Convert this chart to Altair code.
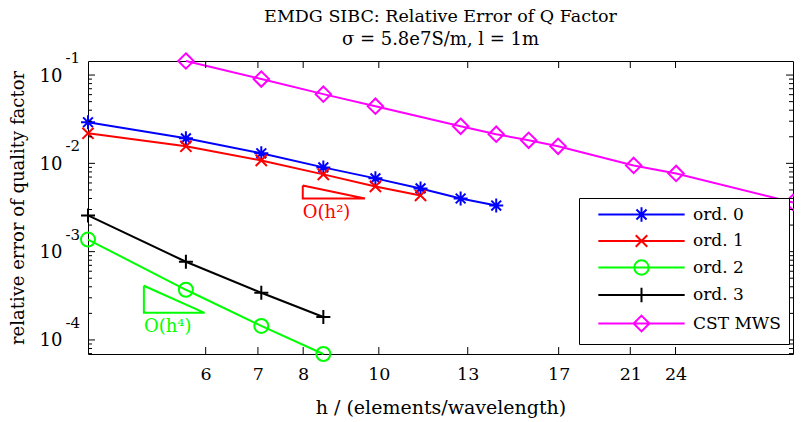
import altair as alt
import pandas as pd

TITLE = "EMDG SIBC: Relative Error of Q Factor"
SUBTITLE = "σ = 5.8e7S/m, l = 1m"
X_TITLE = "h / (elements/wavelength)"
Y_TITLE = "relative error of quality factor"

series_names = ["ord. 0", "ord. 1", "ord. 2", "ord. 3", "CST MWS"]
series_colors = ["#0000ff", "#ff0000", "#00ff00", "#000000", "#ff00ff"]

h_ord0 = [4.24, 5.66, 7.07, 8.49, 9.90, 11.31, 12.73, 14.14]
err_ord0 = [0.0292, 0.0192, 0.0130, 0.0090, 0.00676, 0.00520, 0.00400, 0.00333]
h_ord1 = [4.24, 5.66, 7.07, 8.49, 9.90, 11.31]
err_ord1 = [0.0219, 0.0156, 0.0108, 0.0075, 0.00548, 0.00433]
h_ord2 = [4.24, 5.66, 7.07, 8.49]
err_ord2 = [0.00137, 0.000370, 0.000144, 0.0000693]
h_ord3 = [4.24, 5.66, 7.07, 8.49]
err_ord3 = [0.00257, 0.000769, 0.000342, 0.000182]
h_cst = [5.66, 7.07, 8.49, 9.90, 12.73, 14.14, 15.56, 16.97, 21.21, 24.04, 33.94]
err_cst = [0.1443, 0.0901, 0.0608, 0.0444, 0.0263, 0.0214, 0.01825, 0.0156, 0.00948, 0.00769, 0.00361]

x_ticks = [6, 7, 8, 10, 13, 17, 21, 24]
y_major = [1e-4, 1e-3, 1e-2, 1e-1]
y_exponents = ["-4", "-3", "-2", "-1"]
y_minor = [7e-5, 8e-5, 9e-5,
           2e-4, 3e-4, 4e-4, 5e-4, 6e-4, 7e-4, 8e-4, 9e-4,
           2e-3, 3e-3, 4e-3, 5e-3, 6e-3, 7e-3, 8e-3, 9e-3,
           2e-2, 3e-2, 4e-2, 5e-2, 6e-2, 7e-2, 8e-2, 9e-2]

slope2_h = [7.99, 7.99, 9.60, 7.99]
slope2_err = [0.00562, 0.00400, 0.00400, 0.00562]
slope4_h = [5.00, 5.00, 5.98, 5.00]
slope4_err = [0.000411, 0.000203, 0.000203, 0.000411]
notes = ["O(h²)", "O(h⁴)"]
notes_h = [7.99, 5.00]
notes_err = [0.00277, 0.000141]
notes_colors = ["#ff0000", "#00ff00"]

x_domain = [4.24, 33.94]
y_domain = [0.0000693, 0.1443]

marker_paths = [
    "M0,-1L0,1M-1,0L1,0M-0.7,-0.7L0.7,0.7M-0.7,0.7L0.7,-0.7",
    "M-0.8,-0.8L0.8,0.8M-0.8,0.8L0.8,-0.8",
    "M1,0A1,1,0,1,1,-1,0A1,1,0,1,1,1,0Z",
    "M0,-1L0,1M-1,0L1,0",
    "M0,-1.1L1.1,0L0,1.1L-1.1,0Z",
]
legend_paths = ["M-6,0L6,0" + p for p in marker_paths]

W, H = 705, 293
FONT = "DejaVu Serif"

rows = []
for name, hs, es in [(series_names[0], h_ord0, err_ord0), (series_names[1], h_ord1, err_ord1),
                     (series_names[2], h_ord2, err_ord2), (series_names[3], h_ord3, err_ord3),
                     (series_names[4], h_cst, err_cst)]:
    for h, e in zip(hs, es):
        rows.append({"series": name, "h": h, "err": e})
data = pd.DataFrame(rows)

xs = alt.Scale(type="log", domain=x_domain, nice=False)
ys = alt.Scale(type="log", domain=y_domain, nice=False)
x_axis = alt.Axis(values=x_ticks, format="d", title=X_TITLE, titleX=W / 2, titleY=53,
                  titleBaseline="middle", titleAlign="center", titleFontSize=19, labelPadding=11,
                  labelFontSize=17.5, labelFlush=False, ticks=False, tickSize=0, domain=False, grid=False)
y_axis = alt.Axis(values=y_major, labelExpr="'10'", title=Y_TITLE, titleX=-70, titleY=H / 2,
                  titleAlign="center", titleBaseline="middle", labelPadding=26, labelOffset=1,
                  labelBaseline="middle", ticks=False, tickSize=0, domain=False, grid=False)


def X(field="h"):
    return alt.X(f"{field}:Q", scale=xs, axis=x_axis)


def Y(field="err"):
    return alt.Y(f"{field}:Q", scale=ys, axis=y_axis)


color_scale = alt.Scale(domain=series_names, range=series_colors)

lines = alt.Chart(data).mark_line(strokeWidth=2).encode(
    x=X(), y=Y(), color=alt.Color("series:N", scale=color_scale, legend=None)
)
points = alt.Chart(data).mark_point(filled=False, strokeWidth=2, size=196, opacity=1).encode(
    x=X(), y=Y(),
    color=alt.Color("series:N", scale=color_scale, legend=None),
    shape=alt.Shape("series:N", scale=alt.Scale(domain=series_names, range=marker_paths), legend=None),
)

tri2 = alt.Chart(pd.DataFrame({"h": slope2_h, "err": slope2_err, "i": list(range(4))})).mark_line(
    color="#ff0000", strokeWidth=2).encode(x=X(), y=Y(), order="i:Q")
tri4 = alt.Chart(pd.DataFrame({"h": slope4_h, "err": slope4_err, "i": list(range(4))})).mark_line(
    color="#00ff00", strokeWidth=2).encode(x=X(), y=Y(), order="i:Q")
note_text = alt.Chart(pd.DataFrame({"h": notes_h, "err": notes_err, "t": notes, "c": notes_colors})).mark_text(
    align="left", baseline="middle", font=FONT, fontSize=18).encode(
    x=X(), y=Y(), text="t:N", color=alt.Color("c:N", scale=None))

exp_text = alt.Chart(pd.DataFrame({"err": y_major, "e": y_exponents})).mark_text(
    align="right", baseline="middle", font=FONT, fontSize=15, dy=-17, color="black").encode(
    x=alt.value(-8), y=Y(), text="e:N")

xt = pd.DataFrame({"h": x_ticks})
ymj = pd.DataFrame({"err": y_major})
ymn = pd.DataFrame({"err": y_minor})
tick_b = alt.Chart(xt).mark_rule(color="black").encode(x=X(), y=alt.value(H), y2=alt.value(H - 7))
tick_t = alt.Chart(xt).mark_rule(color="black").encode(x=X(), y=alt.value(0), y2=alt.value(7))
tick_l = alt.Chart(ymj).mark_rule(color="black").encode(y=Y(), x=alt.value(0), x2=alt.value(7))
tick_r = alt.Chart(ymj).mark_rule(color="black").encode(y=Y(), x=alt.value(W), x2=alt.value(W - 7))
mtick_l = alt.Chart(ymn).mark_rule(color="black").encode(y=Y(), x=alt.value(0), x2=alt.value(4))
mtick_r = alt.Chart(ymn).mark_rule(color="black").encode(y=Y(), x=alt.value(W), x2=alt.value(W - 4))

LEG = dict(title=None, orient="none", legendX=491, legendY=137, strokeColor="black",
           fillColor="white", padding=8, symbolSize=207, symbolStrokeWidth=2,
           symbolOffset=46, labelOffset=43, labelFont=FONT, labelFontSize=17,
           labelColor="black", rowPadding=4.5, labelLimit=400, cornerRadius=0)

legend_layer = alt.Chart(pd.DataFrame({"series": series_names})).transform_filter("false").mark_point(
    filled=False, strokeWidth=2, opacity=1).encode(
    color=alt.Color("series:N", scale=color_scale, legend=alt.Legend(**LEG)),
    shape=alt.Shape("series:N", scale=alt.Scale(domain=series_names, range=legend_paths),
                    legend=alt.Legend(**LEG)),
)

chart = alt.layer(
    lines, points, tri2, tri4, note_text, exp_text,
    tick_b, tick_t, tick_l, tick_r, mtick_l, mtick_r, legend_layer
).resolve_scale(color="independent", shape="independent").properties(
    width=W, height=H,
    padding={"left": 80, "top": 53, "right": 1, "bottom": 70},
    autosize=alt.AutoSizeParams(type="none"),
    title=alt.TitleParams(text=TITLE, subtitle=SUBTITLE, font=FONT, fontSize=17.5, fontWeight="normal",
                          subtitleFont=FONT, subtitleFontSize=18, color="black", subtitleColor="black",
                          anchor="middle", frame="group", offset=0, subtitlePadding=6),
).configure_view(stroke="black", strokeWidth=1).configure_axis(
    labelFont=FONT, labelFontSize=18, labelColor="black", titleFont=FONT, titleFontSize=18,
    titleFontWeight="normal", titleColor="black", grid=False, domain=False, ticks=False
).configure_legend(labelFont=FONT, labelFontSize=17, labelColor="black")

chart.save("out.html", embed_options={"renderer": "svg", "actions": False})
